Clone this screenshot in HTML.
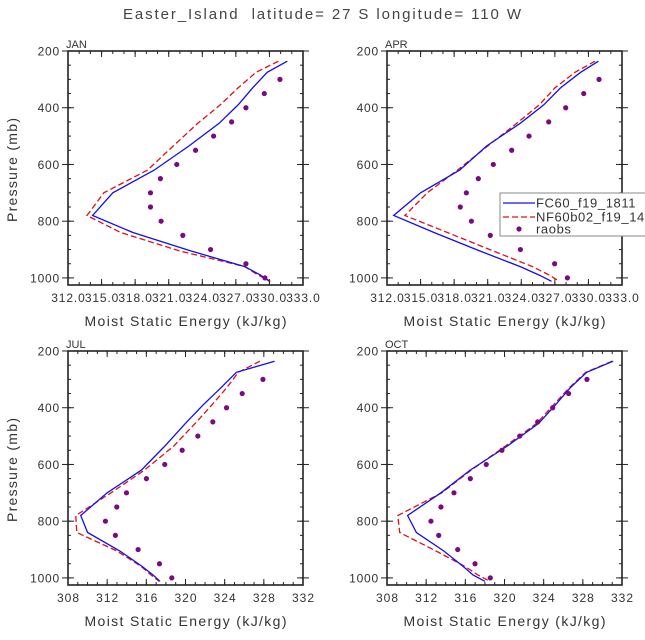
<!DOCTYPE html>
<html><head><meta charset="utf-8"><style>
body{margin:0;background:#fff;}
svg text{font-family:"Liberation Sans","DejaVu Sans",sans-serif;fill:#333;white-space:pre;}
</style></head><body>
<svg id="c" width="645" height="635" viewBox="0 0 645 635" xmlns="http://www.w3.org/2000/svg">
<text x="322" y="19" text-anchor="middle" font-size="15" textLength="398" lengthAdjust="spacing" style="fill:#444">Easter_Island  latitude= 27 S longitude= 110 W</text>
</svg>
<script>
const levels=[236,275,330,390,455,535,620,700,780,840,905,960,990,1012];
const raobP=[300,350,400,450,500,550,600,650,700,750,800,850,900,950,1000];
const months=["JAN","APR","JUL","OCT"];
const janFC=[331.6,329.8,328.5,327.2,325.5,322.8,319.7,316.0,314.2,317.8,323.0,327.8,329.2,330.0];
const janNF=[330.8,328.8,327.2,325.6,323.6,321.4,319.1,315.2,313.7,316.7,322.0,327.8,329.0,330.1];
const janRaob=[330.94,329.54,327.90,326.62,325.01,323.40,321.72,320.26,319.37,319.37,320.32,322.26,324.74,327.90,329.60];
const aprFC=[330.9,329.3,327.5,326.0,323.9,320.9,318.5,315.0,312.6,316.2,320.3,323.9,325.6,326.7];
const aprNF=[330.6,328.8,327.0,325.6,323.6,321.0,318.3,315.6,313.6,317.4,321.5,325.0,326.5,327.4];
const aprRaob=[330.95,329.58,327.97,326.45,324.69,323.14,321.50,320.16,319.09,318.55,319.54,321.23,323.92,326.98,328.12];
const julFC=[329.1,325.2,323.6,321.8,320.0,317.9,315.5,312.0,309.3,310.0,313.3,315.6,316.7,317.4];
const julNF=[327.6,325.4,324.2,322.7,321.0,318.8,315.8,312.4,308.8,308.9,313.0,315.5,316.5,317.3];
const julRaob=[327.91,325.79,324.19,322.79,321.26,319.66,317.88,316.01,313.97,312.98,311.82,312.84,315.16,317.34,318.60];
const octFC=[331.1,328.4,326.7,325.2,323.5,320.3,316.5,313.5,310.1,311.0,313.8,315.8,316.8,318.0];
const octNF=[331.0,328.3,326.6,325.0,323.3,320.1,316.6,313.6,309.1,309.3,313.0,316.0,317.3,318.5];
const octRaob=[328.42,326.55,324.92,323.39,321.55,319.74,318.14,316.51,314.84,313.51,312.49,313.28,315.22,316.99,318.55];
const topXTicks=[312,315,318,321,324,327,330,333];
const botXTicks=[308,312,316,320,324,328,332];
const yTicks=[200,400,600,800,1000];
const legendLabels=["FC60_f19_1811","NF60b02_f19_14","raobs"];

const svg=document.getElementById('c');
const NS='http://www.w3.org/2000/svg';
function mk(t,a,parent){const e=document.createElementNS(NS,t);for(const k in a)e.setAttribute(k,a[k]);(parent||svg).appendChild(e);return e;}

const panels=[
 {m:0,x0:68,y0:51,fc:janFC,nf:janNF,ro:janRaob,xt:topXTicks,xmin:312,xmax:333,minor:1,yl:true,fmt:v=>v.toFixed(1),tl:33.5},
 {m:1,x0:387,y0:51,fc:aprFC,nf:aprNF,ro:aprRaob,xt:topXTicks,xmin:312,xmax:333,minor:1,yl:false,fmt:v=>v.toFixed(1),tl:33.5},
 {m:2,x0:68,y0:351,fc:julFC,nf:julNF,ro:julRaob,xt:botXTicks,xmin:308,xmax:332,minor:1,yl:true,fmt:v=>String(v),tl:22},
 {m:3,x0:387,y0:351,fc:octFC,nf:octNF,ro:octRaob,xt:botXTicks,xmin:308,xmax:332,minor:1,yl:false,fmt:v=>String(v),tl:22}
];
const W=235,H=234,PMIN=200,PMAX=1025;
panels.forEach(P=>{
  const g=mk('g',{});
  
  
  const sx=v=>P.x0+(v-P.xmin)/(P.xmax-P.xmin)*W;
  const sy=p=>P.y0+(p-PMIN)/(PMAX-PMIN)*H;
  const t=mk('text',{x:P.x0-2,y:P.y0-3,'font-size':11},g);t.textContent=months[P.m];
  
  for(let v=P.xmin;v<=P.xmax;v+=P.minor){const X=sx(v);mk('line',{x1:X,x2:X,y1:P.y0+H,y2:P.y0+H-3,stroke:'#222'},g);mk('line',{x1:X,x2:X,y1:P.y0,y2:P.y0+3,stroke:'#222'},g);}
  for(let p=250;p<=1000;p+=50){const Y=sy(p);mk('line',{x1:P.x0,x2:P.x0+3,y1:Y,y2:Y,stroke:'#222'},g);mk('line',{x1:P.x0+W,x2:P.x0+W-3,y1:Y,y2:Y,stroke:'#222'},g);}
  P.xt.forEach(v=>{const X=sx(v);mk('line',{x1:X,x2:X,y1:P.y0+H,y2:P.y0+H-6,stroke:'#222'},g);mk('line',{x1:X,x2:X,y1:P.y0,y2:P.y0+6,stroke:'#222'},g);
    const tl=mk('text',{x:X,y:P.y0+H+17,'font-size':12,'text-anchor':'middle',textLength:P.tl,lengthAdjust:'spacing'},g);tl.textContent=P.fmt(v);
    });
  yTicks.forEach(p=>{const Y=sy(p);mk('line',{x1:P.x0-6,x2:P.x0+6,y1:Y,y2:Y,stroke:'#222'},g);mk('line',{x1:P.x0+W-6,x2:P.x0+W+6,y1:Y,y2:Y,stroke:'#222'},g);
    const tl=mk('text',{x:P.x0-8,y:Y+4.5,'font-size':12,'text-anchor':'end','letter-spacing':'0.8'},g);tl.textContent=String(p);
    });
  const fr=mk('rect',{x:P.x0,y:P.y0,width:W,height:H,fill:'none',stroke:'#222','stroke-width':1.6},g);
  
  const xt=mk('text',{x:P.x0+W/2,y:P.y0+H+41,'font-size':14,'text-anchor':'middle',textLength:202,lengthAdjust:'spacing'},g);xt.textContent='Moist Static Energy (kJ/kg)';
  
  if(P.yl){const yt=mk('text',{x:0,y:0,'font-size':14,'text-anchor':'middle',textLength:104,lengthAdjust:'spacing',transform:`translate(${P.x0-51},${P.y0+H/2+2}) rotate(-90)`},g);yt.textContent='Pressure (mb)';
    }
  const pts=a=>a.map((v,i)=>sx(v).toFixed(1)+','+sy(levels[i]).toFixed(1)).join(' ');
  const nf=mk('polyline',{points:pts(P.nf),fill:'none',stroke:'#e01010','stroke-width':1.3,'stroke-dasharray':'6,3'},g);
  
  const fc=mk('polyline',{points:pts(P.fc),fill:'none',stroke:'#1010f0','stroke-width':1.3},g);
  
  P.ro.forEach((v,i)=>{const c=mk('circle',{cx:sx(v),cy:sy(raobP[i]),r:2.6,fill:'#7a0a80'},g);
    });
});
const lg=mk('g',{});


mk('rect',{x:500,y:193,width:150,height:43,fill:'#fff',stroke:'#888'},lg);
const ly=[203,217,229];
mk('line',{x1:503,x2:535,y1:ly[0],y2:ly[0],stroke:'#1010f0','stroke-width':1.3},lg);
mk('line',{x1:503,x2:535,y1:ly[1],y2:ly[1],stroke:'#e01010','stroke-width':1.3,'stroke-dasharray':'6,3'},lg);
mk('circle',{cx:519,cy:ly[2],r:2.6,fill:'#7a0a80'},lg);
legendLabels.forEach((s,i)=>{const t=mk('text',{x:536,y:ly[i]+4.5,'font-size':13,'letter-spacing':'0.6'},lg);t.textContent=s;
  });
</script>
</body></html>
